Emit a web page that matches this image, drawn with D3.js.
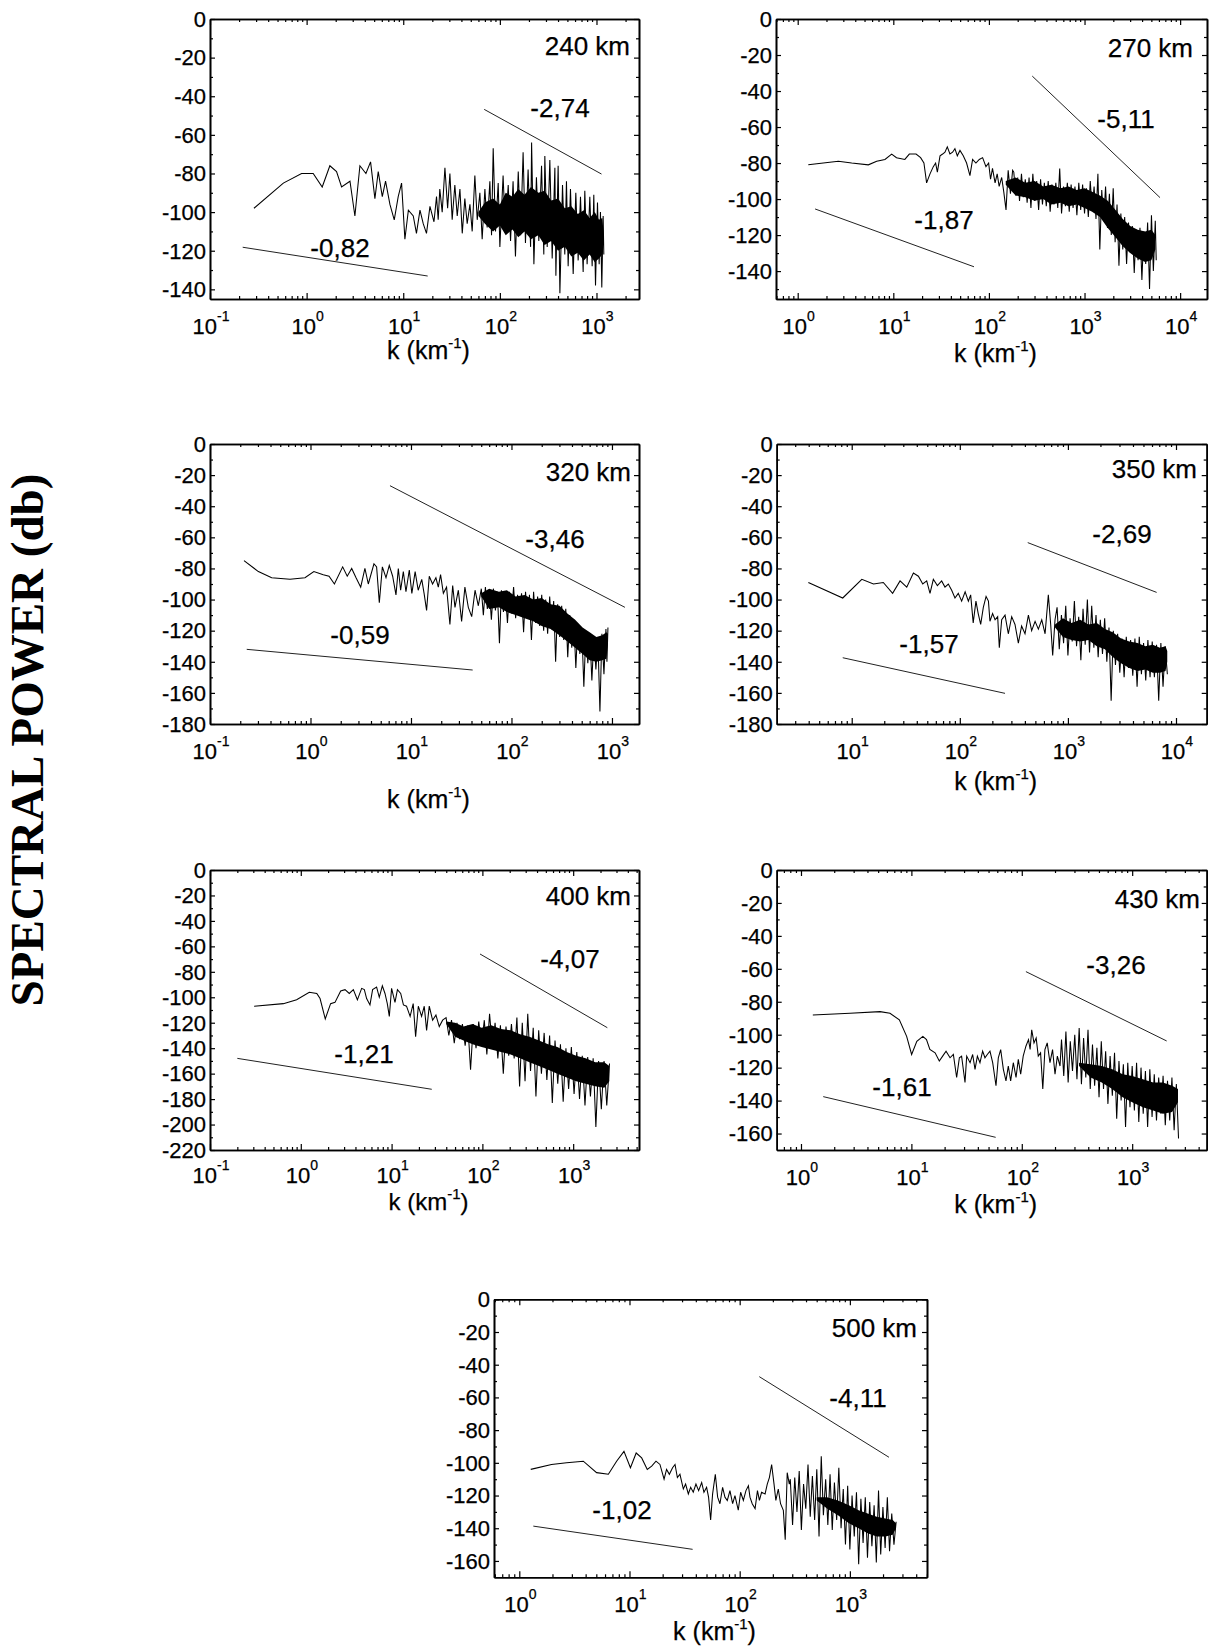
<!DOCTYPE html>
<html><head><meta charset="utf-8">
<script src="https://cdn.jsdelivr.net/npm/d3@7"></script>
<style>
body{margin:0;background:#fff}
svg{display:block}
text{font-family:"Liberation Sans",Arial,sans-serif;fill:#000}
.lbl{stroke:#000;stroke-width:0.25px}
</style>
</head><body>
<svg id="c" width="1212" height="1652"></svg>
<script>
// ---------------- DATA ----------------
const heights = ["240 km","270 km","320 km","350 km","400 km","430 km","500 km"];
const yAxisMin = [-145,-155.5,-180,-180,-220,-170,-170];
const yTickMin = [-140,-140,-180,-180,-220,-160,-160];
const xAxisLogRange = [[-1,3.44],[-0.227,4.281],[-1,3.269],[0.306,4.284],[-1,3.725],[-0.22,3.675],[-0.2296,3.70]];

// 240 km
const kLo240 = [0.285,0.574,0.887,1.17,1.45,1.74,2.04,2.30,2.81,3.16,3.56,4.11,4.59,5.09,5.51,6.07,6.56,7.28,8.07,8.87,9.61,10.4,11.3,12.7,13.7,14.9,16.1,17.4,18.9,20.8];
const dbLo240 = [-98,-85,-80,-80,-87,-76,-79,-87,-84,-102,-76,-80,-74,-93,-79,-92,-84,-96,-104,-92,-85,-114,-99,-102,-111,-99,-106,-111,-97,-105];
const kHi240 = [22.1,23.0,23.9,25.3,27.0,28.8,30.4,32.1,34.2,36.2,38.6,40.8,43.4,45.9,49.0,51.7,55.1,58.3,62.1,65.6,70.0,73.9,78.8,82.0,85.3,90.2,96.1,100,108,114,122,129,137,145,155,164,174,184,196,208,213,225,239,253,270,285,292,309,329,348,371,380,401,418,445,470,489,509,538,574,611,646,683,728,757,800,853,902,938,977,1024,1066,1099,1135,1172,1191];
const dbHi240 = [-92,-104,-88,-100,-77,-98,-80,-104,-86,-102,-88,-111,-93,-106,-96,-110,-81,-104,-90,-114,-88,-108,-84,-112,-67,-110,-85,-118,-81,-110,-86,-115,-84,-123,-79,-112,-69,-116,-78,-118,-64,-127,-82,-115,-76,-122,-71,-118,-73,-124,-77,-133,-76,-142,-86,-122,-84,-128,-88,-132,-90,-125,-92,-131,-89,-127,-92,-128,-91,-138,-95,-127,-100,-139,-102,-122];
const bandK240 = [60,70,85,100,115,135,155,180,210,250,290,340,400,470,550,640,740,850,960,1060,1150,1180];
const bandTop240 = [-100,-95,-93,-96,-90,-92,-88,-91,-87,-90,-89,-94,-93,-98,-97,-101,-99,-103,-100,-104,-103,-110];
const bandBot240 = [-102,-106,-110,-107,-112,-109,-113,-110,-114,-112,-117,-115,-120,-118,-123,-121,-125,-122,-126,-124,-122,-112];
const fitK240 = [[68.8,1127],[0.218,17.9]];
const fitDb240 = [[-46.8,-80.3],[-118.2,-133.1]];
const fitLabel240 = ["-2,74","-0,82"];

// 270 km
const kLo270 = [1.29,2.66,3.67,5.48,6.70,8.18,9.61,10.8,13.2,14.7,17.3,19.3,20.9,22.3,24.2,26.2,27.7,28.9,30.8,32.8,34.7,36.7,39.1,41.7,44.1,46.7,49.8,53.9,58.4,63.3,67.5,73.1,79.3,85.9,93.1,99.3,104,109,116,122,128,136,143,151,159,168,177];
const dbLo270 = [-81,-79,-80,-81,-79,-78,-75,-77,-78,-75,-75,-77,-80,-91,-86,-82,-80,-85,-76,-75,-74,-71,-75,-74,-72,-76,-73,-76,-80,-87,-78,-80,-78,-77,-82,-80,-89,-83,-91,-86,-93,-88,-96,-106,-84,-97,-84];
const kHi270 = [182,191,200,209,219,229,240,251,263,275,288,302,316,331,347,363,380,398,417,437,457,479,501,525,550,575,603,631,661,692,724,759,794,832,871,912,955,1000,1047,1096,1148,1202,1259,1318,1380,1445,1514,1585,1660,1738,1820,1905,1995,2089,2188,2291,2399,2512,2630,2754,2884,3020,3162,3311,3467,3631,3802,3981,4169,4365,4571,4786,5012,5248,5495,5623];
const dbHi270 = [-85,-98,-88,-101,-86,-99,-89,-102,-88,-105,-86,-101,-90,-106,-89,-103,-91,-104,-90,-107,-92,-103,-91,-105,-83,-108,-93,-104,-91,-107,-92,-105,-93,-109,-91,-106,-92,-108,-94,-110,-90,-106,-93,-111,-86,-128,-95,-112,-93,-116,-97,-120,-94,-124,-103,-137,-108,-128,-110,-136,-113,-130,-115,-141,-117,-134,-116,-145,-118,-136,-113,-150,-109,-140,-112,-134];
const bandK270 = [150,190,240,300,370,450,560,680,830,1000,1200,1450,1750,2100,2500,3000,3600,4300,5000,5500];
const bandTop270 = [-90,-88,-91,-90,-93,-92,-94,-93,-95,-94,-96,-98,-101,-106,-111,-115,-117,-118,-117,-120];
const bandBot270 = [-92,-98,-99,-101,-100,-103,-102,-104,-103,-105,-107,-110,-116,-121,-126,-130,-133,-135,-134,-128];
const fitK270 = [[284,6160],[1.52,69.8]];
const fitDb270 = [[-31.7,-99.2],[-105.5,-137.6]];
const fitLabel270 = ["-5,11","-1,87"];

// 320 km
const kLo320 = [0.218,0.303,0.411,0.625,0.881,1.08,1.34,1.53,1.73,2.09,2.32,2.57,2.84,3.16,3.48,3.76,4.28,4.55,4.84,5.19,5.64,6.08,6.57,7.09,7.48,7.89,8.39,8.91,9.62,10.2,11.0,11.8,12.8,13.5,14.3,15.2,16.4,17.7,18.7,19.7,21.0,22.6,24.4,26.0,27.4,29.6,31.9,34.4,37.2,40.2,43.4,46.8];
const dbLo320 = [-75,-82,-86,-87,-86,-82,-84,-85,-90,-79,-85,-80,-86,-92,-80,-90,-77,-79,-102,-79,-86,-78,-85,-97,-80,-94,-82,-95,-81,-96,-82,-94,-87,-96,-107,-85,-90,-86,-92,-84,-96,-92,-116,-91,-105,-94,-114,-92,-105,-111,-94,-104];
const kHi320 = [50.1,52.5,55.0,57.5,60.3,63.1,66.1,69.2,72.4,75.9,79.4,83.2,87.1,91.2,95.5,100,105,110,115,120,126,132,138,145,151,158,166,174,182,191,200,209,219,229,240,251,263,275,288,302,316,331,347,363,380,398,417,437,457,479,501,525,550,575,603,631,661,692,724,759,794,832,871,891,912];
const dbHi320 = [-93,-110,-92,-106,-94,-113,-93,-107,-95,-128,-94,-108,-96,-115,-95,-109,-92,-112,-97,-110,-96,-121,-95,-112,-97,-126,-95,-115,-98,-117,-97,-120,-100,-122,-98,-119,-101,-140,-103,-124,-104,-126,-106,-137,-110,-131,-113,-144,-116,-135,-119,-156,-121,-141,-123,-152,-124,-145,-125,-172,-122,-148,-119,-140,-118];
const bandK320 = [50,60,75,90,110,135,165,200,245,300,360,430,510,600,700,800,880,910];
const bandTop320 = [-96,-93,-95,-94,-98,-97,-100,-99,-103,-104,-109,-113,-118,-121,-124,-123,-121,-122];
const bandBot320 = [-98,-106,-105,-108,-110,-112,-114,-117,-119,-123,-127,-131,-135,-139,-140,-139,-138,-128];
const fitK320 = [[6.18,1346],[0.232,41.1]];
const fitDb320 = [[-26.8,-105],[-132,-145.3]];
const fitLabel320 = ["-3,46","-0,59"];

// 350 km
const kLo350 = [3.97,8.26,12.4,15.9,19.6,23.9,28.0,32.3,37.2,41.4,45.4,49.4,53.0,56.9,62.0,67.9,72.9,78.3,84.1,90.2,96.8,104,112,120,126,133,141,148,156,165,175,184,190,201,212,224,232,244,262,281,302,324,348,373,401,431,462,497,533,573,615,659,693,723,760];
const dbLo350 = [-89,-99,-87,-90,-89,-96,-88,-92,-83,-85,-90,-88,-96,-87,-91,-88,-92,-90,-94,-99,-96,-101,-95,-101,-97,-115,-101,-109,-116,-105,-98,-101,-114,-109,-113,-111,-131,-113,-110,-122,-111,-116,-128,-117,-122,-110,-120,-114,-119,-113,-122,-97,-116,-136,-113];
const kHi350 = [794,832,871,912,955,1000,1047,1096,1148,1202,1259,1318,1380,1445,1514,1585,1660,1738,1820,1905,1995,2089,2188,2291,2399,2512,2630,2754,2884,3020,3162,3311,3467,3631,3802,3981,4169,4365,4571,4786,5012,5248,5495,5754,6026,6310,6607,6918,7244,7586,7943,8318];
const dbHi350 = [-105,-132,-110,-128,-104,-136,-112,-127,-101,-130,-111,-139,-106,-129,-100,-134,-104,-131,-110,-137,-113,-135,-112,-140,-118,-165,-120,-142,-122,-147,-125,-150,-124,-144,-126,-149,-125,-156,-124,-148,-128,-152,-126,-150,-127,-150,-129,-165,-128,-156,-130,-148];
const bandK350 = [760,900,1080,1300,1550,1850,2200,2600,3100,3700,4400,5200,6100,7100,8000,8300];
const bandTop350 = [-116,-112,-115,-113,-116,-115,-119,-121,-125,-127,-128,-130,-129,-131,-130,-133];
const bandBot350 = [-118,-124,-126,-127,-126,-130,-132,-137,-141,-144,-146,-145,-147,-147,-146,-140];
const fitK350 = [[425,6620],[8.26,262]];
const fitDb350 = [[-63.4,-95.4],[-137.4,-160.3]];
const fitLabel350 = ["-2,69","-1,57"];

// 400 km
const kLo400 = [0.306,0.643,0.90,1.24,1.50,1.63,1.86,2.13,2.38,2.75,3.07,3.42,3.79,4.20,4.68,5.01,5.31,5.78,6.18,6.84,7.32,7.91,8.46,8.97,9.44,10.0,10.9,11.6,12.6,13.5,14.6,16.0,17.3,18.4,19.7,21.4,22.9,24.3,26.0,28.3,30.8,33.5,36.5];
const dbLo400 = [-107,-105,-102,-96,-97,-101,-117,-105,-104,-95,-94,-97,-94,-102,-93,-94,-101,-106,-94,-92,-100,-91,-97,-105,-115,-93,-104,-94,-97,-106,-107,-115,-105,-131,-107,-115,-107,-126,-107,-118,-114,-123,-118];
const kHi400 = [39.8,42.7,45.7,49.0,52.5,56.2,60.3,64.6,69.2,74.1,79.4,85.1,91.2,97.7,105,112,120,129,138,148,158,170,182,195,209,224,240,257,275,295,316,339,363,389,417,447,479,513,550,589,631,676,724,776,832,891,955,1023,1096,1175,1259,1349,1445,1549,1660,1778,1905,2042,2188,2344,2512];
const dbHi400 = [-116,-130,-118,-136,-120,-133,-121,-138,-122,-157,-121,-140,-119,-138,-118,-145,-113,-140,-120,-148,-122,-160,-123,-146,-121,-148,-116,-170,-120,-166,-113,-158,-124,-178,-126,-160,-128,-165,-130,-183,-134,-168,-137,-182,-140,-172,-139,-176,-143,-180,-146,-185,-147,-178,-148,-202,-150,-188,-150,-185,-152];
const bandK400 = [40,50,62,78,98,125,160,205,260,330,420,530,670,850,1080,1370,1750,2200,2500];
const bandTop400 = [-119,-120,-123,-121,-124,-122,-125,-126,-129,-131,-134,-137,-139,-143,-146,-148,-151,-151,-154];
const bandBot400 = [-121,-131,-134,-137,-139,-141,-143,-145,-148,-151,-154,-157,-160,-163,-166,-168,-170,-171,-166];
const fitK400 = [[94.2,2377],[0.2,27.7]];
const fitDb400 = [[-66,-123.9],[-148,-172.3]];
const fitLabel400 = ["-4,07","-1,21"];

// 430 km
const kLo430 = [1.28,2.78,5.20,6.40,7.78,9.06,10.05,11.2,12.7,13.7,14.7,16.4,17.9,19.2,20.6,22.4,24.0,25.7,27.2,28.5,30.6,31.7,34.0,35.9,37.7,39.6,41.8,44.2,46.4,48.7,51.5,54.5,58.4,61.3,64.4,68.1,71.9,75.5,79.3,83.8,88.7,93.0,97.7,103,109,115,119,123,129,135,141,148,155,162,170,180,190,200,210,222];
const dbLo430 = [-88,-87,-86,-87,-91,-101,-112,-104,-101,-103,-109,-111,-116,-113,-110,-114,-112,-126,-114,-113,-129,-113,-117,-112,-121,-113,-117,-110,-114,-112,-110,-117,-131,-114,-109,-121,-128,-119,-128,-117,-126,-115,-124,-113,-107,-103,-109,-97,-105,-102,-113,-111,-133,-109,-105,-117,-109,-124,-113,-119];
const kHi430 = [229,240,251,263,275,288,302,316,331,347,363,380,398,417,437,457,479,501,525,550,575,603,631,661,692,724,759,794,832,871,912,955,1000,1047,1096,1148,1202,1259,1318,1380,1445,1514,1585,1660,1738,1820,1905,1995,2089,2188,2291,2399,2512,2630];
const dbHi430 = [-103,-125,-98,-129,-104,-122,-100,-127,-96,-130,-102,-126,-97,-133,-106,-131,-108,-138,-104,-133,-110,-142,-113,-137,-111,-151,-116,-140,-118,-156,-117,-144,-119,-146,-117,-153,-120,-148,-122,-156,-121,-150,-124,-152,-126,-148,-125,-155,-128,-152,-126,-158,-130,-163];
const bandK430 = [330,420,530,660,820,1000,1250,1550,1900,2300,2600];
const bandTop430 = [-117,-118,-119,-121,-124,-125,-127,-129,-129,-131,-133];
const bandBot430 = [-119,-126,-129,-133,-138,-141,-144,-146,-148,-147,-141];
const fitK430 = [[109,2053],[1.59,58]];
const fitDb430 = [[-61.7,-103.8],[-137.6,-162.3]];
const fitLabel430 = ["-3,26","-1,61"];

// 500 km
const kLo500 = [1.27,1.96,2.69,3.81,5.03,6.43,7.64,8.91,10.2,11.5,12.9,14.5,15.9,17.4,18.9,20.6,21.7,23.0,24.6,25.9,27.2,28.7,30.8,32.3,34.2,35.9,37.9,40.1,42.4,45.2,47.4,50.1,52.2,54.5,56.8,60.1,63.1,66.2,70.0,73.5,77.2,81.6,86.3,90.6,97.1,102,108,114,120,124,130,138,145,151,158,170,178,186,195,205,213,224,235,249,259,270,282];
const dbLo500 = [-104,-101,-100,-99,-106,-107,-99,-93,-103,-94,-97,-104,-102,-99,-101,-110,-104,-107,-103,-101,-109,-107,-116,-113,-119,-115,-118,-113,-117,-112,-118,-115,-121,-135,-119,-107,-121,-125,-115,-121,-123,-117,-125,-120,-129,-118,-123,-117,-114,-121,-125,-128,-117,-123,-118,-119,-113,-109,-101,-113,-123,-116,-125,-129,-147,-106,-113];
const kHi500 = [288,302,316,331,347,363,380,398,417,437,457,479,501,525,550,575,603,631,661,692,724,759,794,832,871,912,955,1000,1047,1096,1148,1202,1259,1318,1380,1445,1514,1585,1660,1738,1820,1905,1995,2089,2188,2291,2399,2512,2630];
const dbHi500 = [-110,-138,-109,-130,-105,-141,-113,-128,-101,-133,-108,-135,-104,-145,-96,-132,-110,-138,-107,-141,-112,-135,-103,-140,-116,-150,-114,-153,-120,-145,-118,-162,-122,-149,-121,-158,-124,-151,-126,-161,-117,-156,-127,-152,-121,-154,-131,-150,-136];
const bandK500 = [500,620,780,980,1200,1450,1750,2100,2450,2620];
const bandTop500 = [-121,-121,-123,-126,-129,-131,-133,-134,-135,-137];
const bandBot500 = [-123,-128,-132,-137,-140,-143,-145,-145,-144,-140];
const fitK500 = [[150.6,2264],[1.34,37.4]];
const fitDb500 = [[-47.3,-96.6],[-138.7,-152.9]];
const fitLabel500 = ["-4,11","-1,02"];

// ---------------- LAYOUT ----------------
const layout = [
  {left:210, top:19, w:429, h:280, title:[630,55], labels:[[560,117],[340,257]], xt:60, xl:35, tf:25},
  {left:776, top:19, w:431, h:280, title:[1193,57], labels:[[1126,128],[944,229]], xt:63, xl:35, tf:25},
  {left:210, top:444, w:429, h:280, title:[631,481], labels:[[555,548],[360,644]], xt:84, xl:35, tf:25},
  {left:776.7, top:444, w:430, h:280, title:[1197,478], labels:[[1122,543],[929,653]], xt:66, xl:35, tf:25},
  {left:210, top:870, w:429, h:280, title:[631,905], labels:[[570,968],[364,1063]], xt:60, xl:33, tf:24},
  {left:776.7, top:870, w:430, h:280, title:[1200,908], labels:[[1116,974],[902,1096]], xt:63, xl:35, tf:25},
  {left:494, top:1299.3, w:433, h:278, title:[917,1337], labels:[[858,1407],[622,1519]], xt:63, xl:35, tf:25}
];

const series = [
  [kLo240,dbLo240,kHi240,dbHi240,bandK240,bandTop240,bandBot240,fitK240,fitDb240,fitLabel240],
  [kLo270,dbLo270,kHi270,dbHi270,bandK270,bandTop270,bandBot270,fitK270,fitDb270,fitLabel270],
  [kLo320,dbLo320,kHi320,dbHi320,bandK320,bandTop320,bandBot320,fitK320,fitDb320,fitLabel320],
  [kLo350,dbLo350,kHi350,dbHi350,bandK350,bandTop350,bandBot350,fitK350,fitDb350,fitLabel350],
  [kLo400,dbLo400,kHi400,dbHi400,bandK400,bandTop400,bandBot400,fitK400,fitDb400,fitLabel400],
  [kLo430,dbLo430,kHi430,dbHi430,bandK430,bandTop430,bandBot430,fitK430,fitDb430,fitLabel430],
  [kLo500,dbLo500,kHi500,dbHi500,bandK500,bandTop500,bandBot500,fitK500,fitDb500,fitLabel500]
];

const svg = d3.select("#c");

function label(sel, x, y, size, anchor, parts){
  const t = sel.append("text").attr("class", "lbl")
    .attr("x", x).attr("y", y)
    .attr("text-anchor", anchor).attr("font-size", size);
  parts.forEach(p => {
    const ts = t.append("tspan").text(p.t);
    if (p.dy) ts.attr("dy", p.dy);
    if (p.fs) ts.attr("font-size", p.fs);
  });
  return t;
}

series.forEach((s, i) => {
  const L = layout[i];
  const [kLo, dbLo, kHi, dbHi, bK, bT, bB, fK, fD, fL] = s;
  const lr = xAxisLogRange[i];
  const x = d3.scaleLog().domain([Math.pow(10, lr[0]), Math.pow(10, lr[1])]).range([L.left, L.left + L.w]);
  const y = d3.scaleLinear().domain([yAxisMin[i], 0]).range([L.top + L.h, L.top]);
  const g = svg.append("g");

  // dense core of the spectrum
  const band = bK.map((k, j) => ({k, t: bT[j], b: bB[j]}));
  g.append("path").datum(band)
    .attr("d", d3.area().x(d => x(d.k)).y0(d => y(d.b)).y1(d => y(d.t)))
    .attr("fill", "#000");

  // spectrum line
  const pts = kLo.map((k, j) => [k, dbLo[j]]).concat(kHi.map((k, j) => [k, dbHi[j]]));
  g.append("path").datum(pts)
    .attr("d", d3.line().x(d => x(d[0])).y(d => y(d[1])))
    .attr("fill", "none").attr("stroke", "#000").attr("stroke-width", 1.05).attr("stroke-linejoin", "miter");

  // fitted slope lines
  fK.forEach((kk, j) => {
    g.append("line")
      .attr("x1", x(kk[0])).attr("y1", y(fD[j][0]))
      .attr("x2", x(kk[1])).attr("y2", y(fD[j][1]))
      .attr("stroke", "#222").attr("stroke-width", 1);
    label(g, L.labels[j][0], L.labels[j][1], 26, "middle", [{t: fL[j]}]);
  });

  // height label
  label(g, L.title[0], L.title[1], 26, "end", [{t: heights[i]}]);

  // ticks
  const dec = [], minor = [];
  for (let e = Math.floor(lr[0]); e <= Math.ceil(lr[1]); e++) {
    const v = Math.pow(10, e);
    if (e >= lr[0] - 1e-6 && e <= lr[1] + 1e-6) dec.push(v);
    for (let m = 2; m <= 9; m++) {
      const mv = m * v, lm = Math.log10(mv);
      if (lm > lr[0] && lm < lr[1]) minor.push(mv);
    }
  }
  const yMaj = d3.range(0, yAxisMin[i] - 0.01, -20);
  const yMin = d3.range(-10, yAxisMin[i], -20);
  const bottom = L.top + L.h, right = L.left + L.w;

  const ax = (gen, tr, vals, len) => {
    const a = g.append("g").attr("transform", tr)
      .call(gen.tickValues(vals).tickSize(-len).tickSizeOuter(0).tickFormat(""));
    a.selectAll(".tick line").attr("stroke", "#000").attr("stroke-width", 1.2);
    a.select(".domain").attr("stroke", "#000").attr("stroke-width", 1.6);
    return a;
  };
  ax(d3.axisBottom(x), `translate(0,${bottom})`, dec, 6);
  ax(d3.axisBottom(x), `translate(0,${bottom})`, minor, 3);
  ax(d3.axisTop(x), `translate(0,${L.top})`, dec, 6);
  ax(d3.axisTop(x), `translate(0,${L.top})`, minor, 3);
  ax(d3.axisLeft(y), `translate(${L.left},0)`, yMaj, 5);
  ax(d3.axisLeft(y), `translate(${L.left},0)`, yMin, 3);
  ax(d3.axisRight(y), `translate(${right},0)`, yMaj, 5);
  ax(d3.axisRight(y), `translate(${right},0)`, yMin, 3);

  // y tick labels
  yMaj.filter(v => v >= yTickMin[i]).forEach(v => {
    label(g, L.left - 4, y(v) + 7.8, 22, "end", [{t: String(v)}]);
  });
  // x tick labels
  dec.forEach(v => {
    const e = Math.round(Math.log10(v));
    label(g, x(v) + 1, bottom + L.xl, 22, "middle",
      [{t: "10"}, {t: String(e), dy: -13, fs: 14}]);
  });
  // x axis title
  label(g, L.left + L.w / 2 + 4, bottom + L.xt, L.tf, "middle",
    [{t: "k (km"}, {t: "-1", dy: -11, fs: 15}, {t: ")", dy: 11}]);
});

// shared y title
svg.append("text")
  .attr("transform", "translate(43,740) rotate(-90)")
  .attr("text-anchor", "middle")
  .style("font-family", "'Liberation Serif','Times New Roman',serif")
  .attr("font-weight", "bold").attr("font-size", 47)
  .text("SPECTRAL POWER (db)");
</script>
</body></html>
